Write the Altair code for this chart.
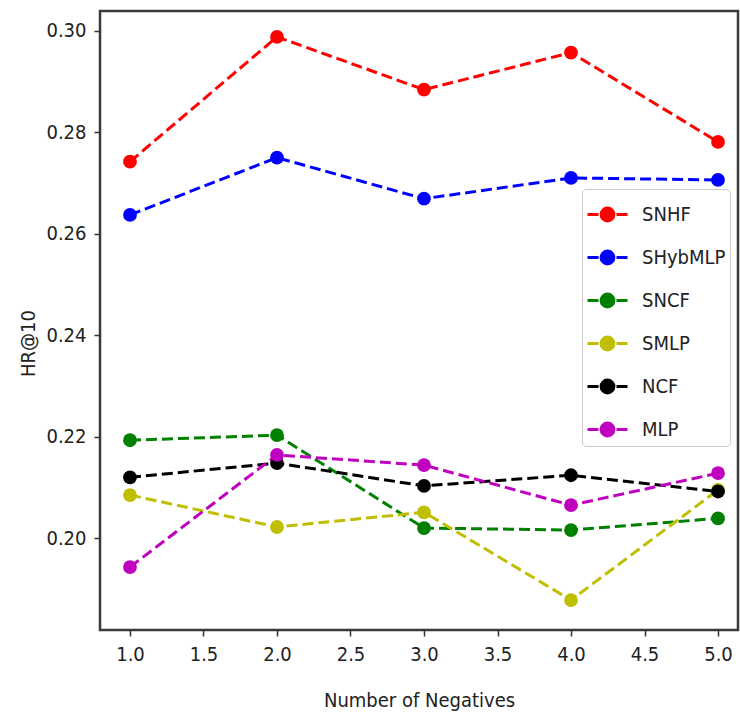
import altair as alt
import pandas as pd

# ---- data ----
negatives = [1.0, 2.0, 3.0, 4.0, 5.0]
series_names = ["SNHF", "SHybMLP", "SNCF", "SMLP", "NCF", "MLP"]
series_colors = ["#ff0000", "#0000ff", "#008000", "#bfbf00", "#000000", "#bf00bf"]
snhf = [0.2742, 0.2988, 0.2884, 0.2957, 0.2781]
shybmlp = [0.2637, 0.2750, 0.2669, 0.2710, 0.2706]
sncf = [0.2193, 0.2203, 0.2020, 0.2016, 0.2039]
smlp = [0.2085, 0.2022, 0.2051, 0.1878, 0.2095]
ncf = [0.2120, 0.2148, 0.2103, 0.2124, 0.2092]
mlp = [0.1943, 0.2164, 0.2144, 0.2065, 0.2128]
x_ticks = [1.0, 1.5, 2.0, 2.5, 3.0, 3.5, 4.0, 4.5, 5.0]
y_ticks = [0.20, 0.22, 0.24, 0.26, 0.28, 0.30]

all_series = [snhf, shybmlp, sncf, smlp, ncf, mlp]
rows = []
for idx, (name, vals) in enumerate(zip(series_names, all_series)):
    for xv, yv in zip(negatives, vals):
        rows.append({"neg": xv, "hr": yv, "model": name, "order": idx})
df = pd.DataFrame(rows)

FONT = "DejaVu Sans Condensed, Liberation Sans Narrow, DejaVu Sans"

legend_symbol = ("M-1,0L-0.45,0M0.45,0L1,0"
                 "M0.32,0A0.32,0.32,0,1,1,-0.32,0A0.32,0.32,0,1,1,0.32,0Z")

color = alt.Color(
    "model:N",
    scale=alt.Scale(domain=series_names, range=series_colors),
    sort=series_names,
    legend=alt.Legend(
        title=None,
        orient="none",
        legendX=482,
        legendY=178,
        symbolType=legend_symbol,
        symbolSize=1600,
        symbolStrokeWidth=3,
        labelFont=FONT,
        labelFontSize=20,
        labelColor="#222222",
        labelOffset=13,
        rowPadding=9,
        padding=4,
        fillColor="rgba(255,255,255,0.85)",
        strokeColor="#cccccc",
        cornerRadius=4,
    ),
)

x = alt.X(
    "neg:Q",
    scale=alt.Scale(domain=[0.796, 5.136], nice=False, zero=False),
    axis=alt.Axis(
        values=x_ticks, format=".1f", title="Number of Negatives",
        titleY=70, titleBaseline="middle",
    ),
)
y = alt.Y(
    "hr:Q",
    scale=alt.Scale(domain=[0.1819, 0.3039], nice=False, zero=False),
    axis=alt.Axis(
        values=y_ticks, format=".2f", title="HR@10",
        titleX=-72, titleY=332, titleAngle=270,
        titleAlign="center", titleBaseline="middle",
    ),
)

lines = alt.Chart(df).mark_line(strokeWidth=3, strokeDash=[11, 5]).encode(
    x=x, y=y, color=color, detail="model:N",
    order=alt.Order("order:Q"),
)
points = alt.Chart(df).mark_point(filled=True, shape="circle", size=190, opacity=1).encode(
    x=x, y=y, color=color, order=alt.Order("order:Q"),
)

chart = (
    alt.layer(lines, points)
    .properties(
        width=638, height=619,
        autosize=alt.AutoSizeParams(type="none"),
        padding={"left": 100, "top": 11, "right": 2, "bottom": 88},
        background="white",
    )
    .configure_view(stroke="#3a3a3a", strokeWidth=2.5)
    .configure_axis(
        grid=False, domain=False,
        labelFont=FONT, labelFontSize=20, labelColor="#222222",
        tickColor="#333333", tickSize=6, tickWidth=1.5,
        labelPadding=8,
        titleFont=FONT, titleFontSize=20, titleFontWeight="normal",
        titleColor="#222222",
    )
)

chart.save("out.html", embed_options={"renderer": "svg", "actions": False})
